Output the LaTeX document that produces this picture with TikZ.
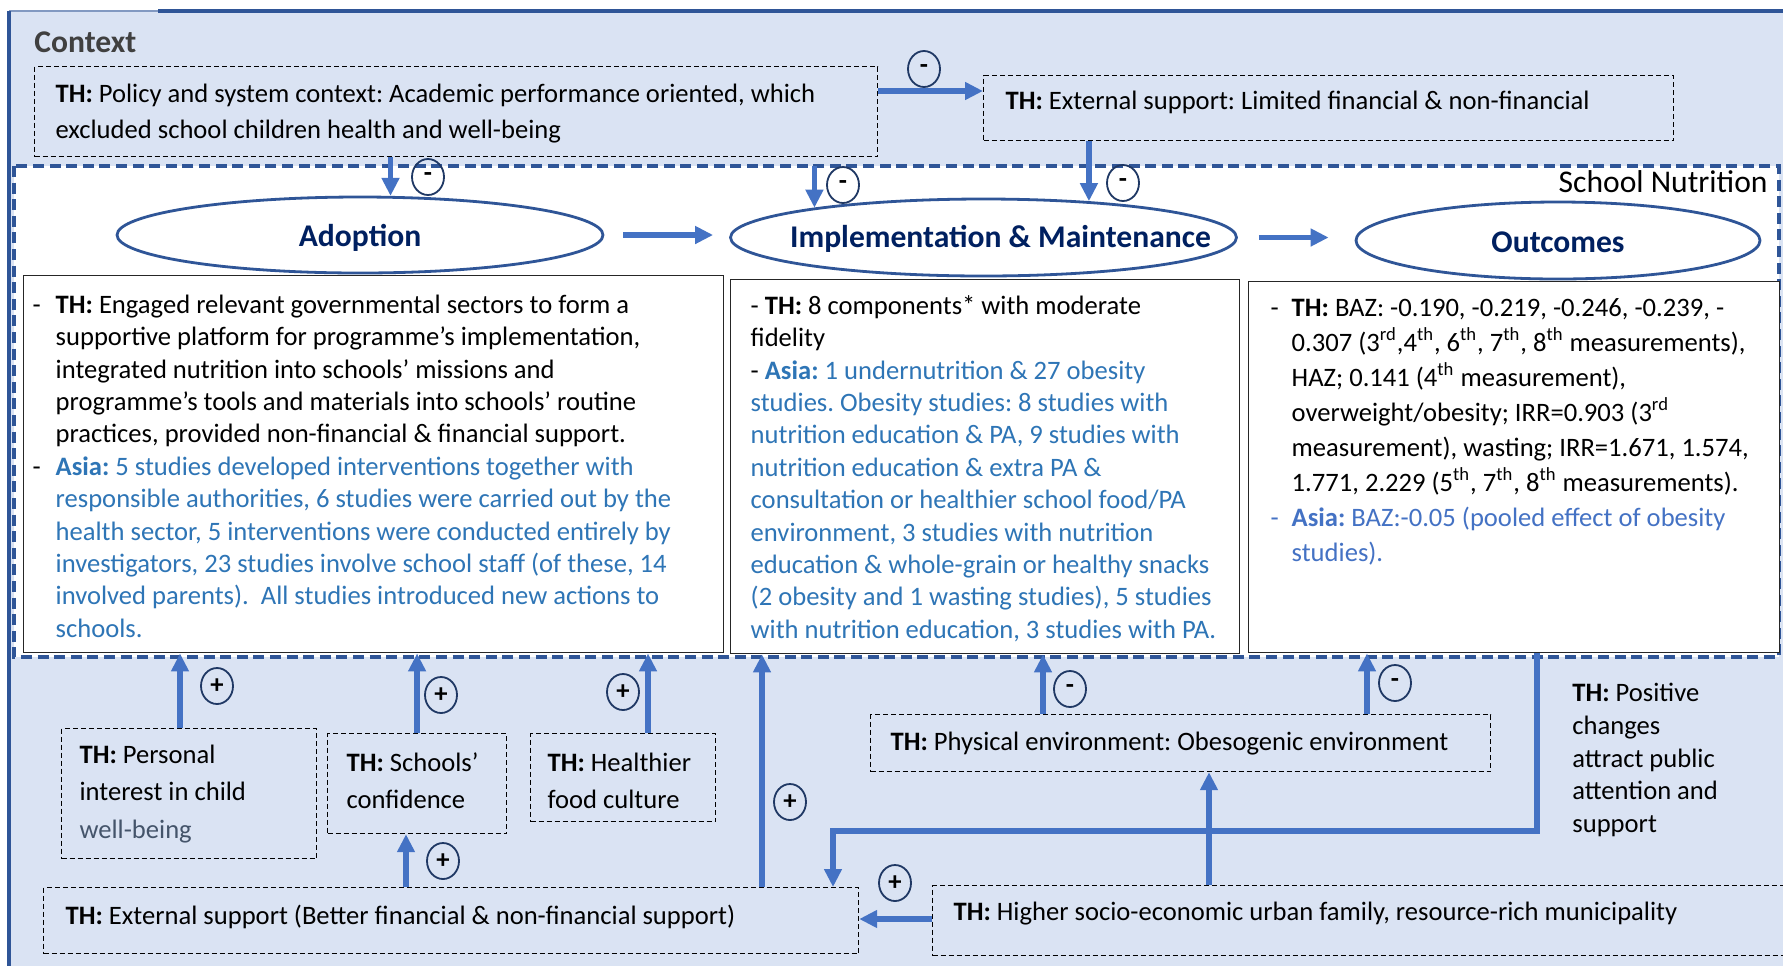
\documentclass[tikz,border=0pt]{standalone}
\usepackage{fontspec}
\setmainfont{Carlito}
\usetikzlibrary{arrows.meta, shapes.geometric, positioning, calc}
\frenchspacing

\definecolor{ctxbg}{HTML}{DAE3F3}
\definecolor{frameblue}{HTML}{2F5597}
\definecolor{flowblue}{HTML}{4472C4}
\definecolor{navy}{HTML}{002060}
\definecolor{signnavy}{HTML}{1F3864}
\definecolor{asiablue}{HTML}{2E75B6}
\definecolor{asialight}{HTML}{4472C4}
\definecolor{slate}{HTML}{44546A}

\newcommand{\bodyfont}{\fontsize{13.3pt}{16.2pt}\selectfont}
\newcommand{\headfont}{\fontsize{15.8pt}{19pt}\selectfont}
\newcommand{\thlab}{\textbf{TH:}}
\newcommand{\dashitem}[1]{\makebox[#1][l]{-}}
% stage names are set in a zero-width box so the ellipse keeps its given size
\newcommand{\stagename}[1]{\makebox[0pt]{#1}}

\tikzset{
  ctxbox/.style={draw=black, dash pattern=on 2.5pt off 1.5pt, line width=0.6pt,
                 anchor=north west, inner sep=0pt, align=left, font=\bodyfont,
                 execute at begin node={\spaceskip=0pt\xspaceskip=0pt}},
  stage/.style={ellipse, draw=frameblue, line width=1.4pt, fill=white, inner sep=0pt,
                font=\headfont\bfseries, text=navy, text height=13pt, text depth=1.5pt},
  mainbox/.style={draw=black!85, line width=0.7pt, fill=white, anchor=north west,
                  inner sep=0pt, font=\bodyfont},
  flow/.style={draw=flowblue, line width=2.8pt, -{Triangle[length=9pt,width=8.5pt]}},
  sign/.style={ellipse, draw=signnavy, line width=0.9pt, minimum width=16pt,
               minimum height=18pt, inner sep=0pt, font=\bodyfont\bfseries}
}

\begin{document}
\begin{tikzpicture}[x=0.5pt, y=-0.5pt]
\useasboundingbox (0,0) rectangle (1783,965);
\clip (0,0) rectangle (1783,965);

% context background and frame
\fill[ctxbg] (9,11) rectangle (1795,975);
\draw[frameblue!60, line width=0.6pt] (9,11) -- (158,11);
\draw[frameblue, line width=1.6pt] (9,975) -- (9,11);
\draw[frameblue, line width=1.6pt] (158,11) -- (1795,11);
\node[anchor=west, font=\headfont\bfseries, text=black!75, inner sep=0pt] (ctxtitle) at (34,42) {Context};

% school nutrition frame
\draw[frameblue, line width=2pt, dash pattern=on 5.5pt off 2.8pt, fill=white] (14,166) rectangle (1779,657);
\node[anchor=east, font=\headfont, inner sep=0pt] (sntitle) at (1768,182) {School Nutrition};

% context factors on top
\node[ctxbox, minimum width=421.5pt, minimum height=45pt, text width=400.5pt,
      text height=12.9pt, text depth=22pt,
      font=\fontsize{13.3pt}{18pt}\selectfont] (policy) at (34,66)
  {\thlab{} Policy and system context: Academic performance oriented, which\\
   excluded school children health and well-being};
\node[ctxbox, minimum width=345pt, minimum height=32.5pt, text width=323pt,
      text height=7pt, text depth=5.8pt] (extsup) at (983,75)
  {\thlab{} External support: Limited financial \& non-financial};

% RE-AIM stages
\node[stage, minimum width=243pt, minimum height=38pt] (adopt) at (360,235) {\stagename{Adoption}};
\node[stage, minimum width=253pt, minimum height=38.5pt, text height=12pt, text depth=2pt] (impl) at (983.5,237.5)
  {\stagename{\hspace{17pt}Implementation \& Maintenance}};
\node[stage, minimum width=202pt, minimum height=38.5pt, text height=13.2pt] (outc) at (1558,240.5) {\stagename{Outcomes}};

% findings per stage
\node[mainbox] (adoptbox) at (23,275) {\parbox[c][188.5pt][t]{350pt}{%
  \leftskip=4.5pt \rightskip=0pt plus 1fil \vspace*{8.75pt}%
  \hangindent=11.5pt \hangafter=1
  \dashitem{11.5pt}\rule{0pt}{10pt}\thlab{} Engaged relevant governmental sectors to form a\\
  supportive platform for programme’s implementation,\\
  integrated nutrition into schools’ missions and\\
  programme’s tools and materials into schools’ routine\\
  practices, provided non-financial \& financial support.\par
  \hangindent=11.5pt \hangafter=1
  \dashitem{11.5pt}{\color{asiablue}\textbf{Asia:} 5 studies developed interventions together with\\
  responsible authorities, 6 studies were carried out by the\\
  health sector, 5 interventions were conducted entirely by\\
  investigators, 23 studies involve school staff (of these, 14\\
  involved parents).\ \ All studies introduced new actions to\\
  schools.}\par}};

\node[mainbox] (implbox) at (730,279) {\parbox[c][187pt][t]{254.5pt}{%
  \leftskip=10pt \rightskip=0pt plus 1fil \vspace*{7.25pt}%
  \rule{0pt}{10pt}- \thlab{} 8 components* with moderate\\
  fidelity\par
  {\color{asiablue}{\color{black}-} \textbf{Asia:} 1 undernutrition \& 27 obesity\\
  studies. Obesity studies: 8 studies with\\
  nutrition education \& PA, 9 studies with\\
  nutrition education \& extra PA \&\\
  consultation or healthier school food/PA\\
  environment, 3 studies with nutrition\\
  education \& whole-grain or healthy snacks\\
  (2 obesity and 1 wasting studies), 5 studies\\
  with nutrition education, 3 studies with PA.\par}}};

\node[mainbox] (outcbox) at (1248,281) {\parbox[c][185.5pt][t]{265.5pt}{%
  \fontsize{13.3pt}{17.5pt}\selectfont
  \leftskip=11pt \rightskip=0pt plus 1fil \vspace*{7.25pt}%
  \hangindent=10.5pt \hangafter=1
  \dashitem{10.5pt}\rule{0pt}{10pt}\thlab{} BAZ: -0.190, -0.219, -0.246, -0.239, -\\
  0.307 (3\textsuperscript{rd},4\textsuperscript{th}, 6\textsuperscript{th}, 7\textsuperscript{th}, 8\textsuperscript{th} measurements),\\
  HAZ; 0.141 (4\textsuperscript{th} measurement),\\
  overweight/obesity; IRR=0.903 (3\textsuperscript{rd}\\
  measurement), wasting; IRR=1.671, 1.574,\\
  1.771, 2.229 (5\textsuperscript{th}, 7\textsuperscript{th}, 8\textsuperscript{th} measurements).\par
  {\color{asialight}\hangindent=10.5pt \hangafter=1
  \dashitem{10.5pt}\textbf{Asia:} BAZ:-0.05 (pooled effect of obesity\\
  studies).\par}}};

% context factors below
\node[ctxbox, minimum width=127.5pt, minimum height=65pt, text width=109.5pt,
      font=\fontsize{13.3pt}{18.75pt}\selectfont] (personal) at (61,728)
  {\thlab{} Personal\\interest in child\\{\color{slate}well-being}};
\node[ctxbox, minimum width=89.5pt, minimum height=50pt, text width=70.5pt,
      text height=8.9pt, text depth=21.5pt,
      font=\fontsize{13.3pt}{18.5pt}\selectfont] (confid) at (327,733)
  {\thlab{} Schools’\\confidence};
\node[ctxbox, minimum width=92.5pt, minimum height=44pt, text width=75.5pt,
      text height=14.9pt, text depth=21.5pt,
      font=\fontsize{13.3pt}{18.5pt}\selectfont] (culture) at (530,733)
  {\thlab{} Healthier\\food culture};
\node[ctxbox, minimum width=407.5pt, minimum height=33pt, text width=385.5pt,
      text height=8.5pt, text depth=4.6pt] (extbetter) at (43,887)
  {\thlab{} External support (Better financial \& non-financial support)};
\node[ctxbox, minimum width=310pt, minimum height=28.5pt, text width=290pt,
      text height=10pt, text depth=2.5pt] (physenv) at (870,714)
  {\thlab{} Physical environment: Obesogenic environment};
\node[ctxbox, minimum width=431.5pt, minimum height=35pt, text width=410.5pt,
      text height=6pt, text depth=6.6pt] (socio) at (932,885)
  {\thlab{} Higher socio-economic urban family, resource-rich municipality};
\node[anchor=north west, inner sep=0pt, align=left, font=\fontsize{13.3pt}{16.3pt}\selectfont,
      execute at begin node={\spaceskip=0pt\xspaceskip=0pt}] (positive) at (1572,683)
  {\thlab{} Positive\\changes\\attract public\\attention and\\support};

% influences from the context
\draw[flow] (policy.east |- 0,91) -- (extsup.west |- 0,91);
\draw[flow] (policy.south -| adopt.52) -- (adopt.52);
\draw[flow, shorten <=4.5pt] (policy.south -| impl.170) -- (impl.170);
\draw[flow] (extsup.south -| impl.19) -- (impl.19);
\draw[flow, shorten <=9.5pt, shorten >=8pt] (adopt.east) -- (adopt.east -| impl.west);
\draw[flow, shorten <=10.5pt, shorten >=13pt] (impl.east) -- (impl.east -| outc.west);

\draw[flow] (180,0 |- personal.north) -- (180,0 |- adoptbox.south);
\draw[flow] (confid.north) -- (confid.north |- adoptbox.south);
\draw[flow] (648,0 |- culture.north) -- (648,0 |- adoptbox.south);
\draw[flow] (406,0 |- extbetter.north) -- (406,0 |- confid.south);
\draw[flow] (762,0 |- extbetter.north) -- (762,0 |- implbox.south);
\draw[flow] (1043,0 |- physenv.north) -- (1043,0 |- implbox.south);
\draw[flow] (1367,0 |- physenv.north) -- (1367,0 |- outcbox.south);
\draw[flow] (1209,0 |- socio.north) -- (1209,0 |- physenv.south);
\draw[flow] (socio.west |- 0,919) -- (extbetter.east |- 0,919);

% feedback loop from outcomes
\coordinate (fbturn) at (833,831);
\draw[flow, line width=3.3pt] (1537,0 |- outcbox.south) |- (fbturn) -- (fbturn |- extbetter.north);

% signs of the influences
\foreach \name/\pos/\sym in {sg1/{924,69}/-, sg2/{428,177}/-, sg3/{843,185}/-, sg4/{1123,183}/-,
    sg5/{217,686}/+, sg6/{441,695}/+, sg7/{623,692}/+, sg8/{443,861}/+,
    sg9/{790,802}/+, sg10/{1070,689}/-, sg11/{1395,683}/-, sg12/{895,883}/+}
  \node[sign] (\name) at (\pos) {\sym};
\end{tikzpicture}
\end{document}
